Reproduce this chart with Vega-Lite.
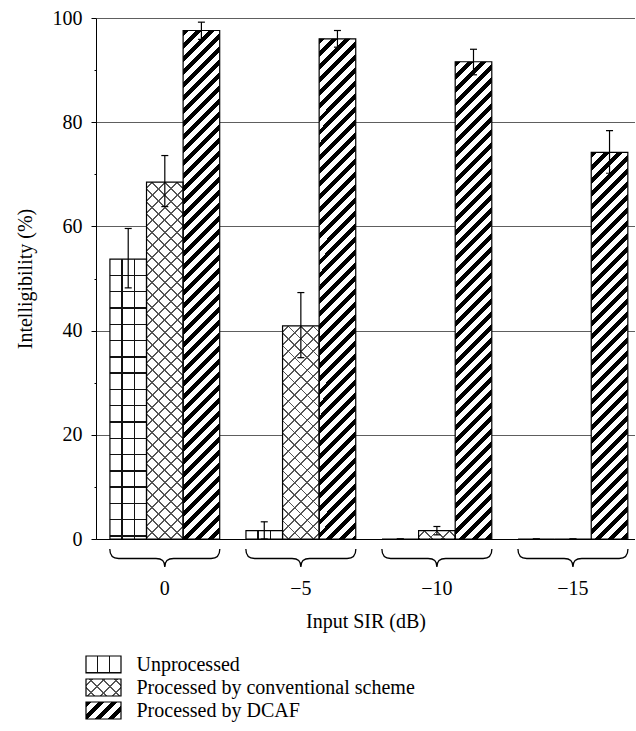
{
  "$schema": "https://vega.github.io/schema/vega-lite/v6.json",
  "padding": {"left": 15, "top": 8, "right": 0, "bottom": 0},
  "spacing": 22,
  "config": {
    "view": {"stroke": null},
    "axis": {"labelFont": "Liberation Serif", "titleFont": "Liberation Serif", "labelFontSize": 20, "titleFontSize": 20, "titleFontWeight": "normal", "labelColor": "#000", "titleColor": "#000", "domainColor": "#000", "tickColor": "#000", "domainWidth": 1, "tickWidth": 1}
  },
  "vconcat": [
    {
      "width": 539,
      "height": 521,
      "data": {"values": [
        {"sir": "0", "s": "Unprocessed", "v": 53.7, "lo": 48.2, "hi": 59.6},
        {"sir": "0", "s": "Conventional", "v": 68.5, "lo": 63.8, "hi": 73.6},
        {"sir": "0", "s": "DCAF", "v": 97.6, "lo": 95.9, "hi": 99.2},
        {"sir": "−5", "s": "Unprocessed", "v": 1.6, "lo": 0, "hi": 3.3},
        {"sir": "−5", "s": "Conventional", "v": 40.9, "lo": 34.8, "hi": 47.3},
        {"sir": "−5", "s": "DCAF", "v": 96.0, "lo": 94.4, "hi": 97.6},
        {"sir": "−10", "s": "Unprocessed", "v": 0, "lo": 0, "hi": 0},
        {"sir": "−10", "s": "Conventional", "v": 1.6, "lo": 0.8, "hi": 2.4},
        {"sir": "−10", "s": "DCAF", "v": 91.6, "lo": 89.1, "hi": 94.0},
        {"sir": "−15", "s": "Unprocessed", "v": 0, "lo": 0, "hi": 0},
        {"sir": "−15", "s": "Conventional", "v": 0, "lo": 0, "hi": 0},
        {"sir": "−15", "s": "DCAF", "v": 74.2, "lo": 70.2, "hi": 78.4}
      ]},
      "encoding": {
        "x": {"field": "sir", "type": "nominal", "sort": ["0", "−5", "−10", "−15"],
              "scale": {"paddingInner": 0.193, "paddingOuter": 0.0775, "align": 0.66},
              "axis": {"labelAngle": 0, "ticks": false, "tickSize": 0, "labelPadding": 39, "title": "Input SIR (dB)", "titlePadding": 13, "grid": false}}
      },
      "layer": [
        {
          "mark": {"type": "bar", "fill": "white"},
          "encoding": {
            "xOffset": {"field": "s", "type": "nominal", "sort": ["Unprocessed", "Conventional", "DCAF"], "scale": {"paddingInner": 0, "paddingOuter": 0}},
            "y": {"field": "v", "type": "quantitative", "stack": null, "scale": {"domain": [0, 100], "nice": false},
                  "axis": {"orient": "left", "values": [0, 20, 40, 60, 80, 100], "tickSize": 5, "labelPadding": 9, "grid": true, "gridColor": "#5e5e5e", "gridWidth": 1, "title": "Intelligibility (%)", "titlePadding": 17}}
          }
        },
        {
          "mark": {"type": "bar", "fill": {"expr": "datum.s=='DCAF' ? {gradient:'linear',x1:0,y1:0,x2:20022/(1344.7+pow(max(datum.v*5.21,1),2)),y2:546*max(datum.v*5.21,1)/(1344.7+pow(max(datum.v*5.21,1),2)),stops:[{offset:0,color:'#000'},{offset:0.0107,color:'#000'},{offset:0.0107,color:'#fff'},{offset:0.0238,color:'#fff'},{offset:0.0238,color:'#000'},{offset:0.0345,color:'#000'},{offset:0.0345,color:'#fff'},{offset:0.0476,color:'#fff'},{offset:0.0476,color:'#000'},{offset:0.0583,color:'#000'},{offset:0.0583,color:'#fff'},{offset:0.0714,color:'#fff'},{offset:0.0714,color:'#000'},{offset:0.0821,color:'#000'},{offset:0.0821,color:'#fff'},{offset:0.0952,color:'#fff'},{offset:0.0952,color:'#000'},{offset:0.106,color:'#000'},{offset:0.106,color:'#fff'},{offset:0.119,color:'#fff'},{offset:0.119,color:'#000'},{offset:0.1298,color:'#000'},{offset:0.1298,color:'#fff'},{offset:0.1429,color:'#fff'},{offset:0.1429,color:'#000'},{offset:0.1536,color:'#000'},{offset:0.1536,color:'#fff'},{offset:0.1667,color:'#fff'},{offset:0.1667,color:'#000'},{offset:0.1774,color:'#000'},{offset:0.1774,color:'#fff'},{offset:0.1905,color:'#fff'},{offset:0.1905,color:'#000'},{offset:0.2012,color:'#000'},{offset:0.2012,color:'#fff'},{offset:0.2143,color:'#fff'},{offset:0.2143,color:'#000'},{offset:0.225,color:'#000'},{offset:0.225,color:'#fff'},{offset:0.2381,color:'#fff'},{offset:0.2381,color:'#000'},{offset:0.2488,color:'#000'},{offset:0.2488,color:'#fff'},{offset:0.2619,color:'#fff'},{offset:0.2619,color:'#000'},{offset:0.2726,color:'#000'},{offset:0.2726,color:'#fff'},{offset:0.2857,color:'#fff'},{offset:0.2857,color:'#000'},{offset:0.2964,color:'#000'},{offset:0.2964,color:'#fff'},{offset:0.3095,color:'#fff'},{offset:0.3095,color:'#000'},{offset:0.3202,color:'#000'},{offset:0.3202,color:'#fff'},{offset:0.3333,color:'#fff'},{offset:0.3333,color:'#000'},{offset:0.344,color:'#000'},{offset:0.344,color:'#fff'},{offset:0.3571,color:'#fff'},{offset:0.3571,color:'#000'},{offset:0.3679,color:'#000'},{offset:0.3679,color:'#fff'},{offset:0.381,color:'#fff'},{offset:0.381,color:'#000'},{offset:0.3917,color:'#000'},{offset:0.3917,color:'#fff'},{offset:0.4048,color:'#fff'},{offset:0.4048,color:'#000'},{offset:0.4155,color:'#000'},{offset:0.4155,color:'#fff'},{offset:0.4286,color:'#fff'},{offset:0.4286,color:'#000'},{offset:0.4393,color:'#000'},{offset:0.4393,color:'#fff'},{offset:0.4524,color:'#fff'},{offset:0.4524,color:'#000'},{offset:0.4631,color:'#000'},{offset:0.4631,color:'#fff'},{offset:0.4762,color:'#fff'},{offset:0.4762,color:'#000'},{offset:0.4869,color:'#000'},{offset:0.4869,color:'#fff'},{offset:0.5,color:'#fff'},{offset:0.5,color:'#000'},{offset:0.5107,color:'#000'},{offset:0.5107,color:'#fff'},{offset:0.5238,color:'#fff'},{offset:0.5238,color:'#000'},{offset:0.5345,color:'#000'},{offset:0.5345,color:'#fff'},{offset:0.5476,color:'#fff'},{offset:0.5476,color:'#000'},{offset:0.5583,color:'#000'},{offset:0.5583,color:'#fff'},{offset:0.5714,color:'#fff'},{offset:0.5714,color:'#000'},{offset:0.5821,color:'#000'},{offset:0.5821,color:'#fff'},{offset:0.5952,color:'#fff'},{offset:0.5952,color:'#000'},{offset:0.606,color:'#000'},{offset:0.606,color:'#fff'},{offset:0.619,color:'#fff'},{offset:0.619,color:'#000'},{offset:0.6298,color:'#000'},{offset:0.6298,color:'#fff'},{offset:0.6429,color:'#fff'},{offset:0.6429,color:'#000'},{offset:0.6536,color:'#000'},{offset:0.6536,color:'#fff'},{offset:0.6667,color:'#fff'},{offset:0.6667,color:'#000'},{offset:0.6774,color:'#000'},{offset:0.6774,color:'#fff'},{offset:0.6905,color:'#fff'},{offset:0.6905,color:'#000'},{offset:0.7012,color:'#000'},{offset:0.7012,color:'#fff'},{offset:0.7143,color:'#fff'},{offset:0.7143,color:'#000'},{offset:0.725,color:'#000'},{offset:0.725,color:'#fff'},{offset:0.7381,color:'#fff'},{offset:0.7381,color:'#000'},{offset:0.7488,color:'#000'},{offset:0.7488,color:'#fff'},{offset:0.7619,color:'#fff'},{offset:0.7619,color:'#000'},{offset:0.7726,color:'#000'},{offset:0.7726,color:'#fff'},{offset:0.7857,color:'#fff'},{offset:0.7857,color:'#000'},{offset:0.7964,color:'#000'},{offset:0.7964,color:'#fff'},{offset:0.8095,color:'#fff'},{offset:0.8095,color:'#000'},{offset:0.8202,color:'#000'},{offset:0.8202,color:'#fff'},{offset:0.8333,color:'#fff'},{offset:0.8333,color:'#000'},{offset:0.844,color:'#000'},{offset:0.844,color:'#fff'},{offset:0.8571,color:'#fff'},{offset:0.8571,color:'#000'},{offset:0.8679,color:'#000'},{offset:0.8679,color:'#fff'},{offset:0.881,color:'#fff'},{offset:0.881,color:'#000'},{offset:0.8917,color:'#000'},{offset:0.8917,color:'#fff'},{offset:0.9048,color:'#fff'},{offset:0.9048,color:'#000'},{offset:0.9155,color:'#000'},{offset:0.9155,color:'#fff'},{offset:0.9286,color:'#fff'},{offset:0.9286,color:'#000'},{offset:0.9393,color:'#000'},{offset:0.9393,color:'#fff'},{offset:0.9524,color:'#fff'},{offset:0.9524,color:'#000'},{offset:0.9631,color:'#000'},{offset:0.9631,color:'#fff'},{offset:0.9762,color:'#fff'},{offset:0.9762,color:'#000'},{offset:0.9869,color:'#000'},{offset:0.9869,color:'#fff'},{offset:1,color:'#fff'}]} : datum.s=='Conventional' ? {gradient:'linear',x1:0,y1:0,x2:14668/(1344.7+pow(max(datum.v*5.21,1),2)),y2:400*max(datum.v*5.21,1)/(1344.7+pow(max(datum.v*5.21,1),2)),stops:[{offset:0,color:'rgba(0,0,0,0)'},{offset:0.0134,color:'rgba(0,0,0,0)'},{offset:0.0134,color:'#555'},{offset:0.0179,color:'#555'},{offset:0.0179,color:'rgba(0,0,0,0)'},{offset:0.0446,color:'rgba(0,0,0,0)'},{offset:0.0446,color:'#555'},{offset:0.0491,color:'#555'},{offset:0.0491,color:'rgba(0,0,0,0)'},{offset:0.0759,color:'rgba(0,0,0,0)'},{offset:0.0759,color:'#555'},{offset:0.0804,color:'#555'},{offset:0.0804,color:'rgba(0,0,0,0)'},{offset:0.1071,color:'rgba(0,0,0,0)'},{offset:0.1071,color:'#555'},{offset:0.1116,color:'#555'},{offset:0.1116,color:'rgba(0,0,0,0)'},{offset:0.1384,color:'rgba(0,0,0,0)'},{offset:0.1384,color:'#555'},{offset:0.1429,color:'#555'},{offset:0.1429,color:'rgba(0,0,0,0)'},{offset:0.1696,color:'rgba(0,0,0,0)'},{offset:0.1696,color:'#555'},{offset:0.1741,color:'#555'},{offset:0.1741,color:'rgba(0,0,0,0)'},{offset:0.2009,color:'rgba(0,0,0,0)'},{offset:0.2009,color:'#555'},{offset:0.2054,color:'#555'},{offset:0.2054,color:'rgba(0,0,0,0)'},{offset:0.2321,color:'rgba(0,0,0,0)'},{offset:0.2321,color:'#555'},{offset:0.2366,color:'#555'},{offset:0.2366,color:'rgba(0,0,0,0)'},{offset:0.2634,color:'rgba(0,0,0,0)'},{offset:0.2634,color:'#555'},{offset:0.2679,color:'#555'},{offset:0.2679,color:'rgba(0,0,0,0)'},{offset:0.2946,color:'rgba(0,0,0,0)'},{offset:0.2946,color:'#555'},{offset:0.2991,color:'#555'},{offset:0.2991,color:'rgba(0,0,0,0)'},{offset:0.3259,color:'rgba(0,0,0,0)'},{offset:0.3259,color:'#555'},{offset:0.3304,color:'#555'},{offset:0.3304,color:'rgba(0,0,0,0)'},{offset:0.3571,color:'rgba(0,0,0,0)'},{offset:0.3571,color:'#555'},{offset:0.3616,color:'#555'},{offset:0.3616,color:'rgba(0,0,0,0)'},{offset:0.3884,color:'rgba(0,0,0,0)'},{offset:0.3884,color:'#555'},{offset:0.3929,color:'#555'},{offset:0.3929,color:'rgba(0,0,0,0)'},{offset:0.4196,color:'rgba(0,0,0,0)'},{offset:0.4196,color:'#555'},{offset:0.4241,color:'#555'},{offset:0.4241,color:'rgba(0,0,0,0)'},{offset:0.4509,color:'rgba(0,0,0,0)'},{offset:0.4509,color:'#555'},{offset:0.4554,color:'#555'},{offset:0.4554,color:'rgba(0,0,0,0)'},{offset:0.4821,color:'rgba(0,0,0,0)'},{offset:0.4821,color:'#555'},{offset:0.4866,color:'#555'},{offset:0.4866,color:'rgba(0,0,0,0)'},{offset:0.5134,color:'rgba(0,0,0,0)'},{offset:0.5134,color:'#555'},{offset:0.5179,color:'#555'},{offset:0.5179,color:'rgba(0,0,0,0)'},{offset:0.5446,color:'rgba(0,0,0,0)'},{offset:0.5446,color:'#555'},{offset:0.5491,color:'#555'},{offset:0.5491,color:'rgba(0,0,0,0)'},{offset:0.5759,color:'rgba(0,0,0,0)'},{offset:0.5759,color:'#555'},{offset:0.5804,color:'#555'},{offset:0.5804,color:'rgba(0,0,0,0)'},{offset:0.6071,color:'rgba(0,0,0,0)'},{offset:0.6071,color:'#555'},{offset:0.6116,color:'#555'},{offset:0.6116,color:'rgba(0,0,0,0)'},{offset:0.6384,color:'rgba(0,0,0,0)'},{offset:0.6384,color:'#555'},{offset:0.6429,color:'#555'},{offset:0.6429,color:'rgba(0,0,0,0)'},{offset:0.6696,color:'rgba(0,0,0,0)'},{offset:0.6696,color:'#555'},{offset:0.6741,color:'#555'},{offset:0.6741,color:'rgba(0,0,0,0)'},{offset:0.7009,color:'rgba(0,0,0,0)'},{offset:0.7009,color:'#555'},{offset:0.7054,color:'#555'},{offset:0.7054,color:'rgba(0,0,0,0)'},{offset:0.7321,color:'rgba(0,0,0,0)'},{offset:0.7321,color:'#555'},{offset:0.7366,color:'#555'},{offset:0.7366,color:'rgba(0,0,0,0)'},{offset:0.7634,color:'rgba(0,0,0,0)'},{offset:0.7634,color:'#555'},{offset:0.7679,color:'#555'},{offset:0.7679,color:'rgba(0,0,0,0)'},{offset:0.7946,color:'rgba(0,0,0,0)'},{offset:0.7946,color:'#555'},{offset:0.7991,color:'#555'},{offset:0.7991,color:'rgba(0,0,0,0)'},{offset:0.8259,color:'rgba(0,0,0,0)'},{offset:0.8259,color:'#555'},{offset:0.8304,color:'#555'},{offset:0.8304,color:'rgba(0,0,0,0)'},{offset:0.8571,color:'rgba(0,0,0,0)'},{offset:0.8571,color:'#555'},{offset:0.8616,color:'#555'},{offset:0.8616,color:'rgba(0,0,0,0)'},{offset:0.8884,color:'rgba(0,0,0,0)'},{offset:0.8884,color:'#555'},{offset:0.8929,color:'#555'},{offset:0.8929,color:'rgba(0,0,0,0)'},{offset:0.9196,color:'rgba(0,0,0,0)'},{offset:0.9196,color:'#555'},{offset:0.9241,color:'#555'},{offset:0.9241,color:'rgba(0,0,0,0)'},{offset:0.9509,color:'rgba(0,0,0,0)'},{offset:0.9509,color:'#555'},{offset:0.9554,color:'#555'},{offset:0.9554,color:'rgba(0,0,0,0)'},{offset:0.9821,color:'rgba(0,0,0,0)'},{offset:0.9821,color:'#555'},{offset:0.9866,color:'#555'},{offset:0.9866,color:'rgba(0,0,0,0)'},{offset:1,color:'rgba(0,0,0,0)'}]} : {gradient:'linear',x1:0,y1:0,x2:1,y2:0,stops:[{offset:0,color:'rgba(0,0,0,0)'},{offset:0.3143,color:'rgba(0,0,0,0)'},{offset:0.3143,color:'#111'},{offset:0.3524,color:'#111'},{offset:0.3524,color:'rgba(0,0,0,0)'},{offset:0.6476,color:'rgba(0,0,0,0)'},{offset:0.6476,color:'#111'},{offset:0.6857,color:'#111'},{offset:0.6857,color:'rgba(0,0,0,0)'},{offset:1,color:'rgba(0,0,0,0)'}]}"}},
          "encoding": {
            "xOffset": {"field": "s", "type": "nominal", "sort": ["Unprocessed", "Conventional", "DCAF"]},
            "y": {"field": "v", "type": "quantitative", "stack": null, "axis": null}
          }
        },
        {
          "mark": {"type": "bar", "stroke": "#000", "strokeWidth": 1.2, "fill": {"expr": "datum.s=='DCAF' ? 'transparent' : datum.s=='Conventional' ? {gradient:'linear',x1:1,y1:0,x2:1-14668/(1344.7+pow(max(datum.v*5.21,1),2)),y2:400*max(datum.v*5.21,1)/(1344.7+pow(max(datum.v*5.21,1),2)),stops:[{offset:0,color:'rgba(0,0,0,0)'},{offset:0.0134,color:'rgba(0,0,0,0)'},{offset:0.0134,color:'#555'},{offset:0.0179,color:'#555'},{offset:0.0179,color:'rgba(0,0,0,0)'},{offset:0.0446,color:'rgba(0,0,0,0)'},{offset:0.0446,color:'#555'},{offset:0.0491,color:'#555'},{offset:0.0491,color:'rgba(0,0,0,0)'},{offset:0.0759,color:'rgba(0,0,0,0)'},{offset:0.0759,color:'#555'},{offset:0.0804,color:'#555'},{offset:0.0804,color:'rgba(0,0,0,0)'},{offset:0.1071,color:'rgba(0,0,0,0)'},{offset:0.1071,color:'#555'},{offset:0.1116,color:'#555'},{offset:0.1116,color:'rgba(0,0,0,0)'},{offset:0.1384,color:'rgba(0,0,0,0)'},{offset:0.1384,color:'#555'},{offset:0.1429,color:'#555'},{offset:0.1429,color:'rgba(0,0,0,0)'},{offset:0.1696,color:'rgba(0,0,0,0)'},{offset:0.1696,color:'#555'},{offset:0.1741,color:'#555'},{offset:0.1741,color:'rgba(0,0,0,0)'},{offset:0.2009,color:'rgba(0,0,0,0)'},{offset:0.2009,color:'#555'},{offset:0.2054,color:'#555'},{offset:0.2054,color:'rgba(0,0,0,0)'},{offset:0.2321,color:'rgba(0,0,0,0)'},{offset:0.2321,color:'#555'},{offset:0.2366,color:'#555'},{offset:0.2366,color:'rgba(0,0,0,0)'},{offset:0.2634,color:'rgba(0,0,0,0)'},{offset:0.2634,color:'#555'},{offset:0.2679,color:'#555'},{offset:0.2679,color:'rgba(0,0,0,0)'},{offset:0.2946,color:'rgba(0,0,0,0)'},{offset:0.2946,color:'#555'},{offset:0.2991,color:'#555'},{offset:0.2991,color:'rgba(0,0,0,0)'},{offset:0.3259,color:'rgba(0,0,0,0)'},{offset:0.3259,color:'#555'},{offset:0.3304,color:'#555'},{offset:0.3304,color:'rgba(0,0,0,0)'},{offset:0.3571,color:'rgba(0,0,0,0)'},{offset:0.3571,color:'#555'},{offset:0.3616,color:'#555'},{offset:0.3616,color:'rgba(0,0,0,0)'},{offset:0.3884,color:'rgba(0,0,0,0)'},{offset:0.3884,color:'#555'},{offset:0.3929,color:'#555'},{offset:0.3929,color:'rgba(0,0,0,0)'},{offset:0.4196,color:'rgba(0,0,0,0)'},{offset:0.4196,color:'#555'},{offset:0.4241,color:'#555'},{offset:0.4241,color:'rgba(0,0,0,0)'},{offset:0.4509,color:'rgba(0,0,0,0)'},{offset:0.4509,color:'#555'},{offset:0.4554,color:'#555'},{offset:0.4554,color:'rgba(0,0,0,0)'},{offset:0.4821,color:'rgba(0,0,0,0)'},{offset:0.4821,color:'#555'},{offset:0.4866,color:'#555'},{offset:0.4866,color:'rgba(0,0,0,0)'},{offset:0.5134,color:'rgba(0,0,0,0)'},{offset:0.5134,color:'#555'},{offset:0.5179,color:'#555'},{offset:0.5179,color:'rgba(0,0,0,0)'},{offset:0.5446,color:'rgba(0,0,0,0)'},{offset:0.5446,color:'#555'},{offset:0.5491,color:'#555'},{offset:0.5491,color:'rgba(0,0,0,0)'},{offset:0.5759,color:'rgba(0,0,0,0)'},{offset:0.5759,color:'#555'},{offset:0.5804,color:'#555'},{offset:0.5804,color:'rgba(0,0,0,0)'},{offset:0.6071,color:'rgba(0,0,0,0)'},{offset:0.6071,color:'#555'},{offset:0.6116,color:'#555'},{offset:0.6116,color:'rgba(0,0,0,0)'},{offset:0.6384,color:'rgba(0,0,0,0)'},{offset:0.6384,color:'#555'},{offset:0.6429,color:'#555'},{offset:0.6429,color:'rgba(0,0,0,0)'},{offset:0.6696,color:'rgba(0,0,0,0)'},{offset:0.6696,color:'#555'},{offset:0.6741,color:'#555'},{offset:0.6741,color:'rgba(0,0,0,0)'},{offset:0.7009,color:'rgba(0,0,0,0)'},{offset:0.7009,color:'#555'},{offset:0.7054,color:'#555'},{offset:0.7054,color:'rgba(0,0,0,0)'},{offset:0.7321,color:'rgba(0,0,0,0)'},{offset:0.7321,color:'#555'},{offset:0.7366,color:'#555'},{offset:0.7366,color:'rgba(0,0,0,0)'},{offset:0.7634,color:'rgba(0,0,0,0)'},{offset:0.7634,color:'#555'},{offset:0.7679,color:'#555'},{offset:0.7679,color:'rgba(0,0,0,0)'},{offset:0.7946,color:'rgba(0,0,0,0)'},{offset:0.7946,color:'#555'},{offset:0.7991,color:'#555'},{offset:0.7991,color:'rgba(0,0,0,0)'},{offset:0.8259,color:'rgba(0,0,0,0)'},{offset:0.8259,color:'#555'},{offset:0.8304,color:'#555'},{offset:0.8304,color:'rgba(0,0,0,0)'},{offset:0.8571,color:'rgba(0,0,0,0)'},{offset:0.8571,color:'#555'},{offset:0.8616,color:'#555'},{offset:0.8616,color:'rgba(0,0,0,0)'},{offset:0.8884,color:'rgba(0,0,0,0)'},{offset:0.8884,color:'#555'},{offset:0.8929,color:'#555'},{offset:0.8929,color:'rgba(0,0,0,0)'},{offset:0.9196,color:'rgba(0,0,0,0)'},{offset:0.9196,color:'#555'},{offset:0.9241,color:'#555'},{offset:0.9241,color:'rgba(0,0,0,0)'},{offset:0.9509,color:'rgba(0,0,0,0)'},{offset:0.9509,color:'#555'},{offset:0.9554,color:'#555'},{offset:0.9554,color:'rgba(0,0,0,0)'},{offset:0.9821,color:'rgba(0,0,0,0)'},{offset:0.9821,color:'#555'},{offset:0.9866,color:'#555'},{offset:0.9866,color:'rgba(0,0,0,0)'},{offset:1,color:'rgba(0,0,0,0)'}]} : {gradient:'linear',x1:0,y1:0,x2:0,y2:293/max(datum.v*5.21,1),stops:[{offset:0,color:'rgba(0,0,0,0)'},{offset:0.0532,color:'rgba(0,0,0,0)'},{offset:0.0532,color:'#111'},{offset:0.058,color:'#111'},{offset:0.058,color:'rgba(0,0,0,0)'},{offset:0.1087,color:'rgba(0,0,0,0)'},{offset:0.1087,color:'#111'},{offset:0.1135,color:'#111'},{offset:0.1135,color:'rgba(0,0,0,0)'},{offset:0.1643,color:'rgba(0,0,0,0)'},{offset:0.1643,color:'#111'},{offset:0.1691,color:'#111'},{offset:0.1691,color:'rgba(0,0,0,0)'},{offset:0.2198,color:'rgba(0,0,0,0)'},{offset:0.2198,color:'#111'},{offset:0.2246,color:'#111'},{offset:0.2246,color:'rgba(0,0,0,0)'},{offset:0.2754,color:'rgba(0,0,0,0)'},{offset:0.2754,color:'#111'},{offset:0.2802,color:'#111'},{offset:0.2802,color:'rgba(0,0,0,0)'},{offset:0.3309,color:'rgba(0,0,0,0)'},{offset:0.3309,color:'#111'},{offset:0.3357,color:'#111'},{offset:0.3357,color:'rgba(0,0,0,0)'},{offset:0.3865,color:'rgba(0,0,0,0)'},{offset:0.3865,color:'#111'},{offset:0.3913,color:'#111'},{offset:0.3913,color:'rgba(0,0,0,0)'},{offset:0.442,color:'rgba(0,0,0,0)'},{offset:0.442,color:'#111'},{offset:0.4468,color:'#111'},{offset:0.4468,color:'rgba(0,0,0,0)'},{offset:0.4976,color:'rgba(0,0,0,0)'},{offset:0.4976,color:'#111'},{offset:0.5024,color:'#111'},{offset:0.5024,color:'rgba(0,0,0,0)'},{offset:0.5532,color:'rgba(0,0,0,0)'},{offset:0.5532,color:'#111'},{offset:0.558,color:'#111'},{offset:0.558,color:'rgba(0,0,0,0)'},{offset:0.6087,color:'rgba(0,0,0,0)'},{offset:0.6087,color:'#111'},{offset:0.6135,color:'#111'},{offset:0.6135,color:'rgba(0,0,0,0)'},{offset:0.6643,color:'rgba(0,0,0,0)'},{offset:0.6643,color:'#111'},{offset:0.6691,color:'#111'},{offset:0.6691,color:'rgba(0,0,0,0)'},{offset:0.7198,color:'rgba(0,0,0,0)'},{offset:0.7198,color:'#111'},{offset:0.7246,color:'#111'},{offset:0.7246,color:'rgba(0,0,0,0)'},{offset:0.7754,color:'rgba(0,0,0,0)'},{offset:0.7754,color:'#111'},{offset:0.7802,color:'#111'},{offset:0.7802,color:'rgba(0,0,0,0)'},{offset:0.8309,color:'rgba(0,0,0,0)'},{offset:0.8309,color:'#111'},{offset:0.8357,color:'#111'},{offset:0.8357,color:'rgba(0,0,0,0)'},{offset:0.8865,color:'rgba(0,0,0,0)'},{offset:0.8865,color:'#111'},{offset:0.8913,color:'#111'},{offset:0.8913,color:'rgba(0,0,0,0)'},{offset:0.942,color:'rgba(0,0,0,0)'},{offset:0.942,color:'#111'},{offset:0.9468,color:'#111'},{offset:0.9468,color:'rgba(0,0,0,0)'},{offset:1,color:'rgba(0,0,0,0)'}]}"}},
          "encoding": {
            "xOffset": {"field": "s", "type": "nominal", "sort": ["Unprocessed", "Conventional", "DCAF"]},
            "y": {"field": "v", "type": "quantitative", "stack": null, "axis": null}
          }
        },
        {
          "mark": {"type": "rule", "color": "#000", "strokeWidth": 1.2},
          "encoding": {
            "xOffset": {"field": "s", "type": "nominal", "sort": ["Unprocessed", "Conventional", "DCAF"]},
            "y": {"field": "lo", "type": "quantitative", "axis": {"orient": "left", "values": [10, 30, 50, 70, 90], "tickSize": 2, "labels": false, "domain": false, "grid": false, "title": null}},
            "y2": {"field": "hi"}
          }
        },
        {
          "mark": {"type": "tick", "color": "#000", "size": 7, "thickness": 1.2, "opacity": 1},
          "encoding": {
            "xOffset": {"field": "s", "type": "nominal", "sort": ["Unprocessed", "Conventional", "DCAF"]},
            "y": {"field": "lo", "type": "quantitative", "axis": null}
          }
        },
        {
          "mark": {"type": "tick", "color": "#000", "size": 7, "thickness": 1.2, "opacity": 1},
          "encoding": {
            "xOffset": {"field": "s", "type": "nominal", "sort": ["Unprocessed", "Conventional", "DCAF"]},
            "y": {"field": "hi", "type": "quantitative", "axis": null}
          }
        },
        {
          "data": {"values": [{"sir": "0"}, {"sir": "−5"}, {"sir": "−10"}, {"sir": "−15"}]},
          "mark": {"type": "point", "shape": "M-1,0 C-1,0.12 -0.95,0.173 -0.84,0.173 L-0.16,0.173 C-0.05,0.173 0,0.22 0,0.327 C0,0.22 0.05,0.173 0.16,0.173 L0.84,0.173 C0.95,0.173 1,0.12 1,0", "size": 12100, "filled": false, "stroke": "#000", "strokeWidth": 1.3, "opacity": 1, "yOffset": 10},
          "encoding": {
            "y": {"datum": 0, "type": "quantitative", "axis": null}
          }
        }
      ],
      "resolve": {"axis": {"y": "independent"}}
    },
    {
      "width": 35,
      "height": 69,
      "data": {"values": [
        {"s": "Unprocessed", "label": "Unprocessed"},
        {"s": "Conventional", "label": "Processed by conventional scheme"},
        {"s": "DCAF", "label": "Processed by DCAF"}
      ]},
      "encoding": {
        "x": {"datum": "swatch", "type": "nominal", "scale": {"paddingInner": 0, "paddingOuter": 0}, "axis": null}
      },
      "layer": [
        {
          "mark": {"type": "rect", "fill": "white", "xOffset": -10},
          "encoding": {
            "y": {"field": "label", "type": "nominal", "sort": null, "scale": {"paddingInner": 0.26, "paddingOuter": 0.13}, "axis": null}
          }
        },
        {
          "mark": {"type": "rect", "xOffset": -10, "fill": {"expr": "datum.s=='DCAF' ? {gradient:'linear',x1:0,y1:0,x2:12.62,y2:6.13,stops:[{offset:0,color:'#000'},{offset:0.0107,color:'#000'},{offset:0.0107,color:'#fff'},{offset:0.0238,color:'#fff'},{offset:0.0238,color:'#000'},{offset:0.0345,color:'#000'},{offset:0.0345,color:'#fff'},{offset:0.0476,color:'#fff'},{offset:0.0476,color:'#000'},{offset:0.0583,color:'#000'},{offset:0.0583,color:'#fff'},{offset:0.0714,color:'#fff'},{offset:0.0714,color:'#000'},{offset:0.0821,color:'#000'},{offset:0.0821,color:'#fff'},{offset:0.0952,color:'#fff'},{offset:0.0952,color:'#000'},{offset:0.106,color:'#000'},{offset:0.106,color:'#fff'},{offset:1,color:'#fff'}]} : datum.s=='Conventional' ? {gradient:'linear',x1:0,y1:0,x2:9.25,y2:4.49,stops:[{offset:0,color:'rgba(0,0,0,0)'},{offset:0.0134,color:'rgba(0,0,0,0)'},{offset:0.0134,color:'#555'},{offset:0.0179,color:'#555'},{offset:0.0179,color:'rgba(0,0,0,0)'},{offset:0.0446,color:'rgba(0,0,0,0)'},{offset:0.0446,color:'#555'},{offset:0.0491,color:'#555'},{offset:0.0491,color:'rgba(0,0,0,0)'},{offset:0.0759,color:'rgba(0,0,0,0)'},{offset:0.0759,color:'#555'},{offset:0.0804,color:'#555'},{offset:0.0804,color:'rgba(0,0,0,0)'},{offset:0.1071,color:'rgba(0,0,0,0)'},{offset:0.1071,color:'#555'},{offset:0.1116,color:'#555'},{offset:0.1116,color:'rgba(0,0,0,0)'},{offset:1,color:'rgba(0,0,0,0)'}]} : {gradient:'linear',x1:0,y1:0,x2:1,y2:0,stops:[{offset:0,color:'rgba(0,0,0,0)'},{offset:0.3143,color:'rgba(0,0,0,0)'},{offset:0.3143,color:'#111'},{offset:0.3524,color:'#111'},{offset:0.3524,color:'rgba(0,0,0,0)'},{offset:0.6476,color:'rgba(0,0,0,0)'},{offset:0.6476,color:'#111'},{offset:0.6857,color:'#111'},{offset:0.6857,color:'rgba(0,0,0,0)'},{offset:1,color:'rgba(0,0,0,0)'}]}"}},
          "encoding": {
            "y": {"field": "label", "type": "nominal", "sort": null, "axis": null}
          }
        },
        {
          "mark": {"type": "rect", "xOffset": -10, "stroke": "#000", "strokeWidth": 1.2, "fill": {"expr": "datum.s=='DCAF' ? 'transparent' : datum.s=='Conventional' ? {gradient:'linear',x1:1,y1:0,x2:-8.25,y2:4.49,stops:[{offset:0,color:'rgba(0,0,0,0)'},{offset:0.0134,color:'rgba(0,0,0,0)'},{offset:0.0134,color:'#555'},{offset:0.0179,color:'#555'},{offset:0.0179,color:'rgba(0,0,0,0)'},{offset:0.0446,color:'rgba(0,0,0,0)'},{offset:0.0446,color:'#555'},{offset:0.0491,color:'#555'},{offset:0.0491,color:'rgba(0,0,0,0)'},{offset:0.0759,color:'rgba(0,0,0,0)'},{offset:0.0759,color:'#555'},{offset:0.0804,color:'#555'},{offset:0.0804,color:'rgba(0,0,0,0)'},{offset:0.1071,color:'rgba(0,0,0,0)'},{offset:0.1071,color:'#555'},{offset:0.1116,color:'#555'},{offset:0.1116,color:'rgba(0,0,0,0)'},{offset:1,color:'rgba(0,0,0,0)'}]} : {gradient:'linear',x1:0,y1:0,x2:0,y2:17.24,stops:[{offset:0,color:'rgba(0,0,0,0)'},{offset:0.0532,color:'rgba(0,0,0,0)'},{offset:0.0532,color:'#111'},{offset:0.058,color:'#111'},{offset:0.058,color:'rgba(0,0,0,0)'},{offset:1,color:'rgba(0,0,0,0)'}]}"}},
          "encoding": {
            "y": {"field": "label", "type": "nominal", "sort": null,
                  "axis": {"orient": "right", "labels": true, "ticks": false, "tickSize": 0, "domain": false, "grid": false, "title": null, "labelPadding": 5, "labelAlign": "left", "labelLimit": 0}}
          }
        }
      ],
      "resolve": {"axis": {"y": "independent"}}
    }
  ]
}
